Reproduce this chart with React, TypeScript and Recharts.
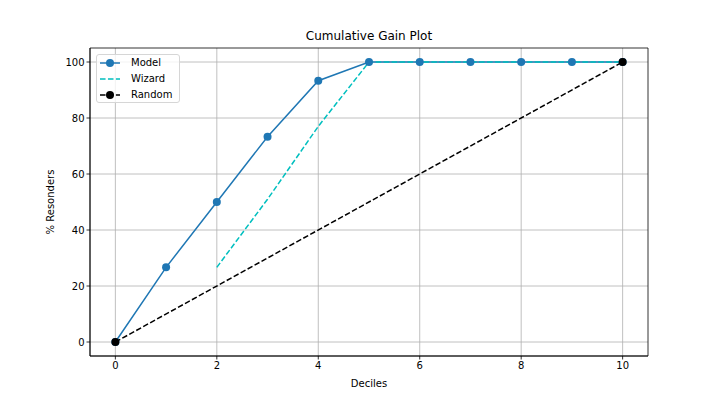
import { LineChart, Line, XAxis, YAxis, CartesianGrid } from 'recharts';

// deciles and cumulative % of responders per series
const deciles = [0, 1, 2, 3, 4, 5, 6, 7, 8, 9, 10];
const modelGain = [0, 26.67, 50, 73.33, 93.33, 100, 100, 100, 100, 100, 100];
const wizardDeciles = [2, 3, 4, 5, 6, 7, 8, 9, 10];
const wizardGain = [26.67, 51, 77, 100, 100, 100, 100, 100, 100];
const randomDeciles = [0, 10];
const randomGain = [0, 100];

const xTicks = [0, 2, 4, 6, 8, 10];
const yTicks = [0, 20, 40, 60, 80, 100];

const modelData = deciles.map((x, i) => ({ x, model: modelGain[i] }));
const wizardData = wizardDeciles.map((x, i) => ({ x, wizard: wizardGain[i] }));
const randomData = randomDeciles.map((x, i) => ({ x, random: randomGain[i] }));

const FONT = '"DejaVu Sans", sans-serif';
const BLUE = '#1f77b4';
const CYAN = '#00bfbf';
const DASH = '5.55 2.4';

const legendItems = [
  { name: 'Model', color: BLUE, dash: undefined as string | undefined, dot: true },
  { name: 'Wizard', color: CYAN, dash: DASH, dot: false },
  { name: 'Random', color: '#000', dash: DASH, dot: true },
];

function LegendBox() {
  return (
    <div
      style={{
        position: 'absolute',
        left: 96,
        top: 54,
        width: 84,
        height: 49,
        boxSizing: 'border-box',
        border: '1px solid #d6d6d6',
        borderRadius: 3,
        background: 'rgba(255,255,255,0.8)',
        padding: '0 0 0 3px',
        fontFamily: FONT,
        fontSize: 10,
        color: '#000',
        zIndex: 2,
      }}
    >
      {legendItems.map((it, i) => (
        <div
          key={it.name}
          style={{ position: 'absolute', left: 3, top: 1 + i * 16, height: 14, display: 'flex', alignItems: 'center', lineHeight: '14px' }}
        >
          <svg width={20} height={10} style={{ marginRight: 11, display: 'block' }}>
            <line x1={0} y1={5} x2={20} y2={5} stroke={it.color} strokeWidth={1.5} strokeDasharray={it.dash} />
            {it.dot && <circle cx={10} cy={5} r={4} fill={it.color} />}
          </svg>
          <span>{it.name}</span>
        </div>
      ))}
    </div>
  );
}

export default function App() {
  return (
    <div style={{ position: 'absolute', left: 0, top: 0, width: 720, height: 400, background: '#fff' }}>
      <div
        style={{
          position: 'absolute',
          left: 90,
          width: 558,
          top: 29,
          textAlign: 'center',
          fontFamily: FONT,
          fontSize: 12,
          color: '#000',
        }}
      >
        Cumulative Gain Plot
      </div>
      <LegendBox />
      <LineChart width={720} height={400} margin={{ top: 48, right: 72, bottom: 0, left: 0 }}>
        <CartesianGrid stroke="#b0b0b0" strokeWidth={0.8} horizontalValues={yTicks} verticalValues={xTicks} />
        {/* frame around the plot area */}
        <CartesianGrid stroke="#000" strokeWidth={0.8} horizontalValues={[-5, 105]} verticalValues={[-0.5, 10.5]} />
        <XAxis
          type="number"
          dataKey="x"
          domain={[-0.5, 10.5]}
          ticks={xTicks}
          height={44}
          tickSize={3.5}
          tickMargin={2}
          axisLine={{ stroke: '#000', strokeWidth: 0.8 }}
          tickLine={{ stroke: '#000', strokeWidth: 0.8 }}
          tick={{ fill: '#000', fontSize: 10, fontFamily: FONT }}
          label={{ value: 'Deciles', position: 'insideBottom', offset: 13, fill: '#000', fontSize: 10, fontFamily: FONT }}
        />
        <YAxis
          type="number"
          domain={[-5, 105]}
          ticks={yTicks}
          width={90}
          tickSize={3.5}
          tickMargin={2}
          axisLine={{ stroke: '#000', strokeWidth: 0.8 }}
          tickLine={{ stroke: '#000', strokeWidth: 0.8 }}
          tick={{ fill: '#000', fontSize: 10, fontFamily: FONT }}
          label={{
            value: '% Resonders',
            angle: -90,
            position: 'insideLeft',
            offset: 50,
            fill: '#000',
            fontSize: 10,
            fontFamily: FONT,
            style: { textAnchor: 'middle' },
          }}
        />
        <Line
          data={modelData}
          dataKey="model"
          stroke={BLUE}
          strokeWidth={1.5}
          dot={{ r: 4, fill: BLUE, stroke: BLUE, strokeWidth: 0 }}
          isAnimationActive={false}
        />
        <Line
          data={wizardData}
          dataKey="wizard"
          stroke={CYAN}
          strokeWidth={1.5}
          strokeDasharray={DASH}
          dot={false}
          isAnimationActive={false}
        />
        <Line
          data={randomData}
          dataKey="random"
          stroke="#000"
          strokeWidth={1.5}
          strokeDasharray={DASH}
          dot={{ r: 4, fill: '#000', stroke: '#000', strokeWidth: 0, strokeDasharray: '' }}
          isAnimationActive={false}
        />
      </LineChart>
    </div>
  );
}
